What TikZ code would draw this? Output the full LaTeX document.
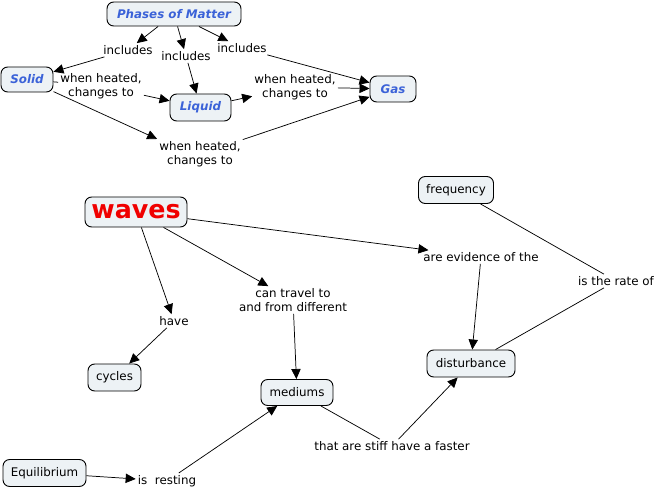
\documentclass[tikz,border=0pt]{standalone}
\usepackage{fontspec}
\setmainfont{DejaVu Sans}
\usetikzlibrary{arrows.meta}
\definecolor{boxfill}{HTML}{EDF2F5}
\definecolor{phblue}{HTML}{3B62D8}
\definecolor{wavered}{HTML}{F00000}
\tikzset{
  sz/.style 2 args={minimum width={#1*0.75pt}, minimum height={#2*0.75pt}},
  concept/.style={draw=black, line width=0.7pt, rounded corners=5pt, fill=boxfill, inner sep=0pt, align=center, font=\fontsize{8.9}{10}\selectfont},
  phase/.style={concept, font=\fontsize{8.9}{10}\selectfont\bfseries\itshape, text=phblue},
  link/.style={inner sep=1.5pt, align=center, font=\fontsize{8.9}{10.5}\selectfont},
  arr/.style={-{Triangle[length=7.5pt,width=7pt]}, line width=0.55pt},
  plain/.style={line width=0.55pt},
}
\begin{document}
\begin{tikzpicture}[x=0.75pt,y=-0.75pt]
\useasboundingbox (0,0) rectangle (659,491);
% phases map
\node[phase, sz={134}{24}] (phases) at (174,14) {Phases of Matter};
\node[phase, sz={52}{25}] (solid) at (27,79.5) {Solid};
\node[phase, sz={61}{27}] (liquid) at (200.5,107.5) {Liquid};
\node[phase, sz={46}{26}] (gas) at (393,89) {Gas};
\node[link] (inc1) at (128,50) {includes};
\node[link] (inc2) at (186,56) {includes};
\node[link] (inc3) at (242,48) {includes};
\node[link] (wh1) at (101,86) {when heated,\\changes to};
\node[link] (wh2) at (295,87) {when heated,\\changes to};
\node[link] (wh3) at (200,154) {when heated,\\changes to};
\draw[arr] (phases) -- (inc1);
\draw[arr] (inc1) -- (solid);
\draw[arr] (phases) -- (inc2);
\draw[arr] (inc2) -- (liquid);
\draw[arr] (phases) -- (inc3);
\draw[arr] (inc3) -- (gas);
\draw[plain] (solid) -- (wh1);
\draw[arr] (wh1) -- (liquid);
\draw[arr] (liquid) -- (wh2);
\draw[arr] (wh2) -- (gas);
\draw[arr] (solid) -- (wh3.north west);
\draw[arr] (wh3) -- (gas);
% waves map
\node[concept, sz={102}{30}, font=\fontsize{19}{20}\selectfont\bfseries, text=wavered] (waves) at (136,212) {waves};
\node[concept, sz={75}{27}] (frequency) at (456,190) {frequency};
\node[concept, sz={53}{27}] (cycles) at (114.5,377.5) {cycles};
\node[concept, sz={72}{26}] (mediums) at (297,392.5) {mediums};
\node[concept, sz={88}{27}] (disturbance) at (471,363.5) {disturbance};
\node[concept, sz={83}{27}] (equilibrium) at (44.5,473) {Equilibrium};
\node[link] (have) at (174,321) {have};
\node[link] (cantravel) at (293,300) {can travel to\\and from different};
\node[link] (evidence) at (481,257) {are evidence of the};
\node[link] (rate) at (616,281) {is the rate of};
\node[link] (stiff) at (392,446) {that are stiff have a faster};
\node[link] (resting) at (167,481) {is~ resting};
\draw[arr] (waves) -- (have);
\draw[arr] (have) -- (cycles);
\draw[arr] (waves) -- (cantravel);
\draw[arr] (cantravel) -- (mediums);
\draw[arr] (waves) -- (evidence);
\draw[arr] (evidence) -- (disturbance);
\draw[plain] (frequency) -- (rate);
\draw[plain] (rate) -- (disturbance);
\draw[plain] (mediums) -- (stiff);
\draw[arr] (stiff) -- (disturbance);
\draw[arr] (equilibrium) -- (resting);
\draw[arr] (resting) -- (mediums);
\end{tikzpicture}
\end{document}
